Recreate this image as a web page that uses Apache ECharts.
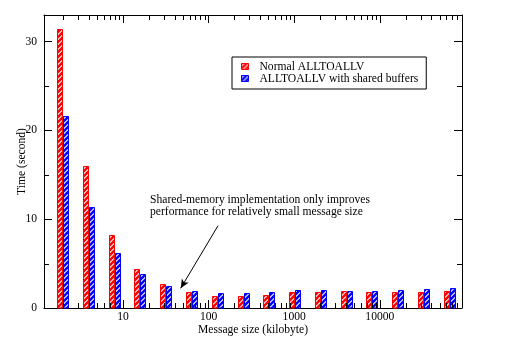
<!DOCTYPE html>
<html><head><meta charset="utf-8">
<script src="https://cdn.jsdelivr.net/npm/echarts@6/dist/echarts.min.js"></script>
<style>html,body{margin:0;padding:0;background:#fff}#c{width:509px;height:344px}</style>
</head><body><div id="c"></div>
<script>
// ---- data ----
const sizes = [2, 4, 8, 16, 32, 64, 128, 256, 512, 1024, 2048, 4096, 8192, 16384, 32768, 65536];
const normalTimes = [31.4, 16.0, 8.2, 4.36, 2.7, 1.8, 1.35, 1.35, 1.47, 1.8, 1.8, 1.9, 1.8, 1.8, 1.8, 1.9];
const sharedTimes = [21.6, 11.35, 6.16, 3.83, 2.5, 1.9, 1.72, 1.72, 1.8, 2.03, 2.03, 1.95, 1.9, 2.03, 2.14, 2.25];
const seriesNames = ['Normal ALLTOALLV', 'ALLTOALLV with shared buffers'];
const xMinorTicks = [2,3,4,5,6,7,8,9, 20,30,40,50,60,70,80,90, 200,300,400,500,600,700,800,900,
  2000,3000,4000,5000,6000,7000,8000,9000, 20000,30000,40000,50000,60000,70000,80000,90000];
const yMinorTicks = [5, 15, 25];
const arrowFrom = [129, 9.28];
const arrowTo = [47.2, 2.22];
const noteText = 'Shared-memory implementation only improves\nperformance for relatively small message size';
const xLabel = 'Message size (kilobyte)';
const yLabel = 'Time (second)';

const FONT = '"Liberation Serif", "DejaVu Serif", serif';
const FS = 11.6;

function hatch(color) {
  const s = 5;
  const c = document.createElement('canvas');
  c.width = s; c.height = s;
  const g = c.getContext('2d');
  g.fillStyle = '#fff'; g.fillRect(0, 0, s, s);
  g.strokeStyle = color; g.lineWidth = 2.5;
  g.beginPath();
  g.moveTo(-1, s + 1); g.lineTo(s + 1, -1);
  g.moveTo(-s / 2 - 1, s / 2 + 1); g.lineTo(s / 2 + 1, -s / 2 - 1);
  g.moveTo(s / 2 - 1, s * 1.5 + 1); g.lineTo(s * 1.5 + 1, s / 2 - 1);
  g.stroke();
  return c;
}
const patR = { image: hatch('#ff0000'), repeat: 'repeat' };
const patB = { image: hatch('#0000ff'), repeat: 'repeat' };

const BW = 6;
function barRender(side, color, pat) {
  return function (params, api) {
    const x = api.value(0), y = api.value(1);
    const base = api.coord([x, 0]);
    const top = api.coord([x, y]);
    const cx = Math.round(base[0]);
    const x0 = side < 0 ? cx - BW : cx;
    return {
      type: 'rect',
      shape: { x: x0 + 0.5, y: Math.round(top[1]) + 0.5, width: BW - 1, height: Math.round(base[1]) - Math.round(top[1]) - 0.5 },
      style: { fill: pat, stroke: color, lineWidth: 1 }
    };
  };
}

function xMinorRender(params, api) {
  const cs = params.coordSys;
  const p = api.coord([api.value(0), 0]);
  const px = Math.round(p[0]) + 0.5;
  const bottom = cs.y + cs.height, top = cs.y;
  return {
    type: 'group', children: [
      { type: 'line', shape: { x1: px, y1: bottom, x2: px, y2: bottom - 5 }, style: { stroke: '#000', lineWidth: 1 } },
      { type: 'line', shape: { x1: px, y1: top, x2: px, y2: top + 5 }, style: { stroke: '#000', lineWidth: 1 } }
    ]
  };
}
function yMinorRender(params, api) {
  const cs = params.coordSys;
  const p = api.coord([10, api.value(1)]);
  const py = Math.round(p[1]) + 0.5;
  const left = cs.x, right = cs.x + cs.width;
  return {
    type: 'group', children: [
      { type: 'line', shape: { x1: left, y1: py, x2: left + 5, y2: py }, style: { stroke: '#000', lineWidth: 1 } },
      { type: 'line', shape: { x1: right, y1: py, x2: right - 5, y2: py }, style: { stroke: '#000', lineWidth: 1 } }
    ]
  };
}

const axisCommonX = {
  type: 'log', logBase: 10, min: 1.194, max: 91200,
  axisLine: { show: true, onZero: false, lineStyle: { color: '#000', width: 1 } },
  axisTick: { show: true, inside: true, length: 8, lineStyle: { color: '#000', width: 1 } },
  splitLine: { show: false }, minorTick: { show: false }, nameMoveOverlap: false
};
const axisCommonY = {
  type: 'value', min: 0, max: 33, interval: 10,
  axisLine: { show: true, onZero: false, lineStyle: { color: '#000', width: 1 } },
  axisTick: { show: true, inside: true, length: 8, lineStyle: { color: '#000', width: 1 } },
  splitLine: { show: false }, minorTick: { show: false }, nameMoveOverlap: false
};

const chart = echarts.init(document.getElementById('c'), null, { renderer: 'canvas' });
chart.setOption({
  animation: false,
  backgroundColor: '#fff',
  textStyle: { fontFamily: FONT },
  grid: { left: 44, right: 47, top: 15, bottom: 36, containLabel: false, outerBoundsMode: 'none' },
  xAxis: [
    Object.assign({}, axisCommonX, {
      position: 'bottom',
      axisLabel: { show: true, margin: 3, color: '#000', fontFamily: FONT, fontSize: FS, showMinLabel: false, showMaxLabel: false,
        formatter: v => String(Math.round(v)) },
      name: xLabel, nameLocation: 'middle', nameGap: 16,
      nameTextStyle: { color: '#000', fontFamily: FONT, fontSize: FS }
    }),
    Object.assign({}, axisCommonX, { position: 'top', axisLabel: { show: false } })
  ],
  yAxis: [
    Object.assign({}, axisCommonY, {
      position: 'left',
      axisLabel: { show: true, margin: 7, color: '#000', fontFamily: FONT, fontSize: FS, showMaxLabel: false },
      name: yLabel, nameLocation: 'middle', nameGap: 16, nameRotate: 90,
      nameTextStyle: { color: '#000', fontFamily: FONT, fontSize: FS }
    }),
    Object.assign({}, axisCommonY, { position: 'right', axisLabel: { show: false } })
  ],
  legend: {
    orient: 'vertical', left: 232, top: 57,
    padding: [3.5, 8, 4.5, 9], itemGap: 0,
    itemWidth: 7, itemHeight: 6,
    borderColor: '#000', borderWidth: 1, backgroundColor: '#fff',
    textStyle: { color: '#000', fontFamily: FONT, fontSize: FS, lineHeight: 11, padding: [0, 0, 0, 6] },
    data: [
      { name: seriesNames[0], icon: 'rect', itemStyle: { color: patR, borderColor: '#ff0000', borderWidth: 1 } },
      { name: seriesNames[1], icon: 'rect', itemStyle: { color: patB, borderColor: '#0000ff', borderWidth: 1 } }
    ]
  },
  graphic: [{
    type: 'text', left: 150, top: 194,
    style: { text: noteText, font: FS + 'px ' + FONT, lineHeight: 11.5, fill: '#000' }
  }],
  series: [
    {
      name: seriesNames[0], type: 'custom', xAxisIndex: 0, yAxisIndex: 0,
      itemStyle: { color: patR, borderColor: '#ff0000', borderWidth: 1 },
      renderItem: barRender(-1, '#ff0000', patR),
      encode: { x: 0, y: 1 },
      data: sizes.map((s, i) => [s, normalTimes[i]])
    },
    {
      name: seriesNames[1], type: 'custom', xAxisIndex: 0, yAxisIndex: 0,
      itemStyle: { color: patB, borderColor: '#0000ff', borderWidth: 1 },
      renderItem: barRender(1, '#0000ff', patB),
      encode: { x: 0, y: 1 },
      data: sizes.map((s, i) => [s, sharedTimes[i]])
    },
    {
      name: 'xminor', type: 'custom', silent: true, renderItem: xMinorRender,
      encode: { x: 0, y: 1 }, data: xMinorTicks.map(v => [v, 0])
    },
    {
      name: 'yminor', type: 'custom', silent: true, renderItem: yMinorRender,
      encode: { x: 0, y: 1 }, data: yMinorTicks.map(v => [10, v])
    },
    {
      name: 'note', type: 'line', data: [], silent: true,
      markLine: {
        silent: true, symbol: ['none', 'arrow'], symbolSize: [6, 9], animation: false,
        lineStyle: { color: '#000', width: 1, type: 'solid' }, label: { show: false },
        data: [[{ coord: arrowFrom }, { coord: arrowTo }]]
      }
    }
  ]
});
</script>
</body></html>
